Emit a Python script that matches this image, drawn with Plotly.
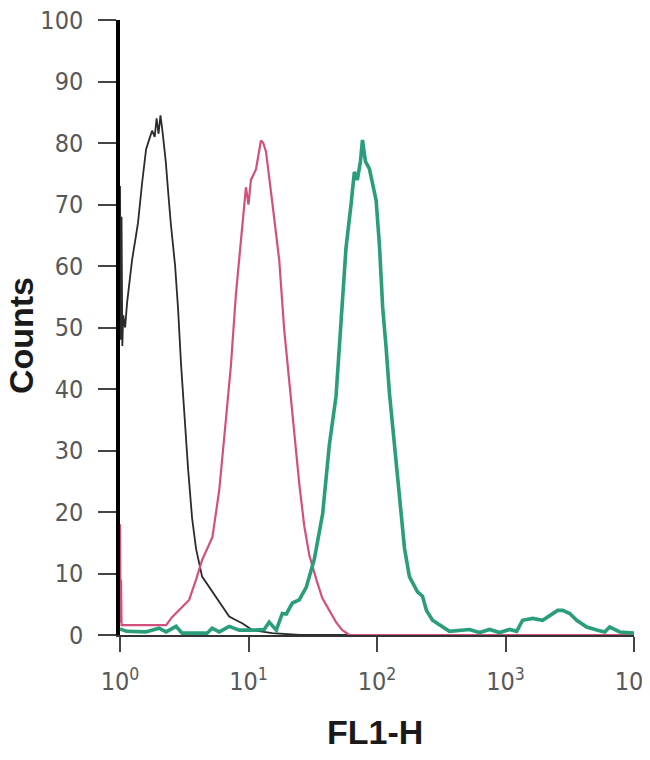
import plotly.graph_objects as go

# ---- data (log10 of FL1-H channel value, counts) ----
black_log = [0.000, 0.006, 0.012, 0.018, 0.025, 0.040, 0.055, 0.070, 0.094, 0.125, 0.140,
             0.172, 0.203, 0.234, 0.250, 0.270, 0.285, 0.300, 0.315, 0.330, 0.356, 0.375,
             0.395, 0.429, 0.452, 0.475, 0.499, 0.530, 0.561, 0.592, 0.639, 0.694, 0.772,
             0.850, 0.904, 0.951, 1.030, 1.185, 1.400, 4.000]
black_cnt = [73, 48, 68, 47, 52, 50, 54, 57, 61, 65, 67,
             73.5, 79, 81, 82, 81, 84, 81.5, 84.5, 82, 77, 72,
             67, 60, 53, 44, 36, 27, 19, 14, 9.5, 7.8, 5.2,
             3, 2.4, 1.9, 0.8, 0.3, 0, 0]

pink_log = [0.000, 0.004, 0.008, 0.012, 0.359, 0.405, 0.483, 0.538, 0.592, 0.639, 0.719,
            0.772, 0.824, 0.863, 0.902, 0.941, 0.980, 1.000, 1.019, 1.058, 1.076, 1.097,
            1.115, 1.136, 1.187, 1.239, 1.278, 1.317, 1.356, 1.395, 1.434, 1.473, 1.528,
            1.574, 1.629, 1.684, 1.730, 1.785, 4.000]
pink_cnt = [18, 2, 9, 1.6, 1.6, 2.9, 4.6, 5.7, 9, 12.2, 15.9,
            23.5, 35, 43.8, 55.4, 64, 72.8, 70, 74, 75.7, 78, 80.4,
            80, 78.6, 70, 61, 49.6, 41, 32, 24.6, 17.7, 13, 9,
            6, 4, 2, 0.8, 0, 0]

green_log = [0.000, 0.050, 0.200, 0.304, 0.359, 0.436, 0.483, 0.550, 0.678, 0.717, 0.772,
             0.850, 0.928, 1.044, 1.122, 1.161, 1.216, 1.263, 1.294, 1.341, 1.395, 1.450,
             1.512, 1.577, 1.629, 1.681, 1.720, 1.759, 1.798, 1.824, 1.847, 1.871, 1.887,
             1.910, 1.941, 1.993, 2.019, 2.044, 2.071, 2.097, 2.136, 2.175, 2.214, 2.252,
             2.315, 2.354, 2.385, 2.432, 2.510, 2.564, 2.720, 2.798, 2.876, 2.954, 3.032,
             3.087, 3.133, 3.211, 3.289, 3.367, 3.406, 3.445, 3.500, 3.554, 3.632, 3.710,
             3.772, 3.811, 3.889, 4.000]
green_cnt = [1.0, 0.6, 0.5, 1.1, 0.5, 1.4, 0.3, 0.3, 0.3, 1.1, 0.5,
             1.4, 0.8, 0.8, 0.9, 2.1, 0.8, 3.5, 3.4, 5.2, 5.7, 7.8,
             12.3, 19.7, 30.9, 38.8, 50.6, 63, 70, 75.3, 74, 77, 80.5,
             77, 75.8, 70.7, 63.4, 53.3, 46.7, 39.3, 30.9, 22.5, 14.1, 9.5,
             7, 6.3, 4, 2.4, 1.3, 0.6, 0.9, 0.4, 0.9, 0.4, 0.9,
             0.6, 2.4, 2.7, 2.4, 3.5, 4, 4, 3.5, 2.4, 1.3, 0.8,
             0.5, 1.3, 0.5, 0.3]

x_tickvals = [1, 10, 100, 1000, 10000]
x_ticktext = ["10<sup>0</sup>", "10<sup>1</sup>", "10<sup>2</sup>", "10<sup>3</sup>", "10<sup>4</sup>"]
y_tickvals = [0, 10, 20, 30, 40, 50, 60, 70, 80, 90, 100]

def lin(vals):
    return [10 ** v for v in vals]

fig = go.Figure()
fig.add_trace(go.Scatter(x=lin(black_log), y=black_cnt, mode="lines",
                         line=dict(color="#2b2b2b", width=1.8), cliponaxis=False,
                         hoverinfo="skip"))
fig.add_trace(go.Scatter(x=lin(pink_log), y=pink_cnt, mode="lines",
                         line=dict(color="#d4507c", width=2.2), cliponaxis=False,
                         hoverinfo="skip"))
fig.add_trace(go.Scatter(x=lin(green_log), y=green_cnt, mode="lines",
                         line=dict(color="#2a9d7a", width=3.6), cliponaxis=False,
                         hoverinfo="skip"))

tickfont = dict(family="Liberation Sans Narrow, Arial Narrow, DejaVu Sans Condensed, Liberation Sans",
                size=25, color="#585858")

# the page body adds an 8 px offset, so margins compensate for it
fig.update_layout(
    width=650, height=760,
    margin=dict(l=112, r=24, t=12, b=133, autoexpand=False),
    paper_bgcolor="white", plot_bgcolor="white",
    showlegend=False,
    xaxis=dict(type="log", range=[0, 4], tickvals=x_tickvals, ticktext=x_ticktext,
               showgrid=False, zeroline=False, showline=True, linecolor="#333333",
               linewidth=2, ticks="outside", ticklen=15, tickwidth=2, tickcolor="#444444",
               tickfont=tickfont, ticklabelstandoff=8, layer="below traces",
               automargin=False, ticklabeloverflow="allow"),
    yaxis=dict(range=[0, 100], tickvals=y_tickvals, showgrid=False, zeroline=False,
               showline=True, linecolor="#000000", linewidth=3.5, ticks="outside",
               ticklen=18, tickwidth=2, tickcolor="#444444", tickfont=tickfont,
               ticklabelstandoff=10, layer="below traces", automargin=False,
               ticklabeloverflow="allow"),
    annotations=[
        dict(text="<b>Counts</b>", xref="paper", yref="paper", x=-0.1926, y=0.486,
             textangle=-90, showarrow=False, xanchor="center", yanchor="middle",
             font=dict(family="Liberation Sans, Arial", size=34, color="#1a1a1a")),
        dict(text="<b>FL1-H</b>", xref="paper", yref="paper", x=0.496, y=-0.158,
             showarrow=False, xanchor="center", yanchor="middle",
             font=dict(family="Liberation Sans, Arial", size=34, color="#1a1a1a")),
    ],
)

fig.write_html("out.html", config={"displayModeBar": False})
